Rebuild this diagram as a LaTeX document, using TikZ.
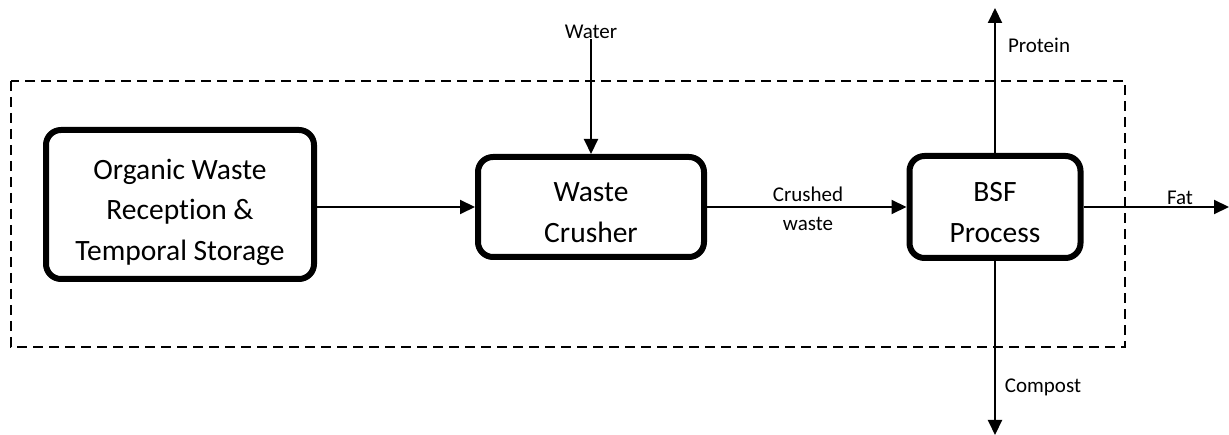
\documentclass[tikz,border=0pt]{standalone}
\usepackage{fontspec}
\setmainfont{Carlito}[Ligatures=NoCommon]
\usetikzlibrary{arrows.meta}
\newcommand\boxtxt[1]{\raisebox{-7pt}[\height][\depth]{\begin{tabular}{@{}c@{}}#1\end{tabular}}}
\begin{document}
\begin{tikzpicture}[x=1pt,y=-1pt,
  procbox/.style={draw, line width=6pt, rounded corners=15pt, inner sep=0pt,
    font=\fontsize{29.5}{40.5}\selectfont},
  flow/.style={line width=2pt, -{Triangle[length=15pt,width=14pt]}},
  lbl/.style={inner sep=0pt, font=\fontsize{21}{29}\selectfont},
  boundary/.style={line width=2pt, dash pattern=on 10pt off 6pt}]
\useasboundingbox (0,0) rectangle (1229,435);
\draw[boundary] (11,81) rectangle (1125,347);
\node[procbox, minimum width=268pt, minimum height=149pt] (rec) at (180,204.5)
  {\boxtxt{Organic Waste\\Reception \&\\Temporal Storage}};
\node[procbox, minimum width=226pt, minimum height=100pt] (cru) at (591,207)
  {\boxtxt{Waste\\Crusher}};
\node[procbox, minimum width=171pt, minimum height=102pt] (bsf) at (995,207)
  {\boxtxt{BSF\\Process}};
\node[lbl, anchor=base] (water) at (591,39) {Water};
\node[lbl, align=center] (cw) at (808,209) {Crushed\\waste};
\node[lbl, anchor=base] (prot) at (1039,53) {Protein};
\node[lbl, anchor=base] (comp) at (1043,393) {Compost};
\node[lbl, anchor=base] (fat) at (1180,205) {Fat};
\coordinate (protend) at (995,8);
\coordinate (compend) at (995,435);
\coordinate (fatend) at (1229,207);
\draw[flow] (rec.east |- cru.west) -- (cru.west);
\draw[flow] (water.south) -- (cru.north);
\draw[flow] (cru.east) -- (bsf.west);
\draw[flow] (bsf.north) -- (protend);
\draw[flow] (bsf.south) -- (compend);
\draw[flow] (bsf.east) -- (fatend);
\end{tikzpicture}
\end{document}
